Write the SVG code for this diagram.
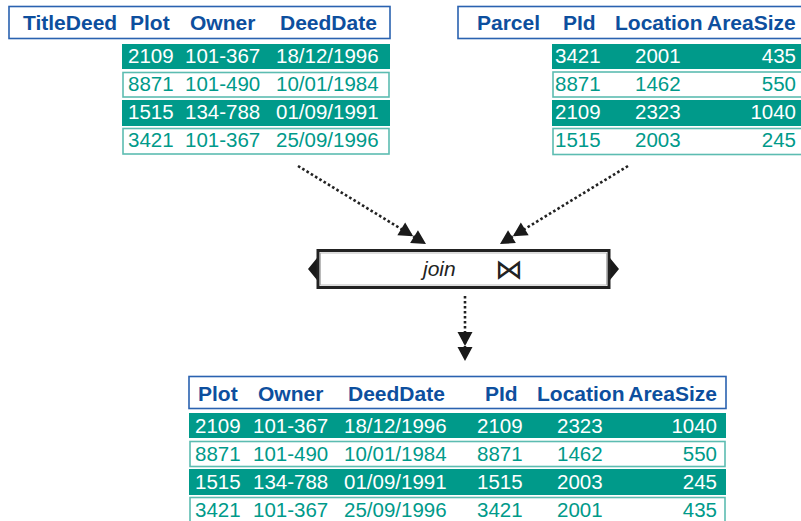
<svg xmlns="http://www.w3.org/2000/svg" xmlns:xlink="http://www.w3.org/1999/xlink" width="801" height="521" viewBox="0 0 801 521">
<defs>
<style>
.hdr{fill:#fff;stroke:#2a62b0;stroke-width:1.6}
.hd{font-family:"Liberation Sans",Arial,sans-serif;font-weight:bold;font-size:21px;fill:#0d4f9e}
.rf{fill:#009a8a}
.ro{fill:#fff;stroke:#5cbcb1;stroke-width:1.6}
.tw{font-family:"Liberation Sans",Arial,sans-serif;font-size:20.5px;fill:#fff}
.tt{font-family:"Liberation Sans",Arial,sans-serif;font-size:20.5px;fill:#009a8a}
.e{text-anchor:end}
.conn{fill:none;stroke:#222;stroke-width:2.6;stroke-dasharray:2.6 2.4}
</style>
<path id="dhead" d="M-14,-7.5 L0,0 L-14,7.5 Z M-29,-7.5 L-15,0 L-29,7.5 Z" fill="#1a1a1a"/>
</defs>

<g id="titledeed">
<rect class="hdr" x="9" y="6.5" width="381" height="32"/>
<text class="hd" x="23" y="30">TitleDeed</text>
<text class="hd" x="130" y="30">Plot</text>
<text class="hd" x="190" y="30">Owner</text>
<text class="hd" x="280" y="30">DeedDate</text>
<rect class="rf" x="122" y="44" width="268" height="25"/>
<text class="tw" x="128" y="63">2109</text><text class="tw" x="185" y="63">101-367</text><text class="tw" x="276" y="63">18/12/1996</text>
<rect class="ro" x="123" y="72.5" width="266" height="24.5"/>
<text class="tt" x="128" y="91">8871</text><text class="tt" x="185" y="91">101-490</text><text class="tt" x="276" y="91">10/01/1984</text>
<rect class="rf" x="122" y="100" width="268" height="26"/>
<text class="tw" x="128" y="119">1515</text><text class="tw" x="185" y="119">134-788</text><text class="tw" x="276" y="119">01/09/1991</text>
<rect class="ro" x="123" y="128.5" width="266" height="25.5"/>
<text class="tt" x="128" y="147">3421</text><text class="tt" x="185" y="147">101-367</text><text class="tt" x="276" y="147">25/09/1996</text>
</g>

<g id="parcel">
<rect class="hdr" x="458" y="6.5" width="350" height="32"/>
<text class="hd" x="477" y="30">Parcel</text>
<text class="hd" x="563" y="30">PId</text>
<text class="hd" x="615" y="30">Location</text>
<text class="hd" x="707" y="30">AreaSize</text>
<rect class="rf" x="552" y="44" width="255" height="25"/>
<text class="tw" x="555" y="63">3421</text><text class="tw" x="635" y="63">2001</text><text class="tw e" x="796" y="63">435</text>
<rect class="ro" x="553" y="72" width="255" height="25"/>
<text class="tt" x="555" y="91">8871</text><text class="tt" x="635" y="91">1462</text><text class="tt e" x="796" y="91">550</text>
<rect class="rf" x="552" y="100" width="255" height="26"/>
<text class="tw" x="555" y="119">2109</text><text class="tw" x="635" y="119">2323</text><text class="tw e" x="796" y="119">1040</text>
<rect class="ro" x="553" y="128.5" width="255" height="26"/>
<text class="tt" x="555" y="147">1515</text><text class="tt" x="635" y="147">2003</text><text class="tt e" x="796" y="147">245</text>
</g>

<g id="join">
<path d="M308,269 L317,258 L317,280 Z M619,269 L610,258 L610,280 Z" fill="#1a1a1a"/>
<rect x="318" y="250.5" width="291" height="37" fill="#fff" stroke="#222" stroke-width="3"/>
<rect x="320.5" y="253" width="286" height="32" fill="none" stroke="#aaa" stroke-width="0.8"/>
<text x="423" y="276" font-family="'Liberation Sans',Arial,sans-serif" font-style="italic" font-size="21" fill="#222">join</text>
<text x="509" y="279" text-anchor="middle" font-family="'DejaVu Sans',sans-serif" font-size="28" fill="#222">⋈</text>
</g>

<g id="connectors">
<line class="conn" x1="298" y1="166" x2="416" y2="238"/>
<use xlink:href="#dhead" href="#dhead" transform="translate(426,244) rotate(31.4)"/>
<line class="conn" x1="628" y1="166" x2="510" y2="238"/>
<use xlink:href="#dhead" href="#dhead" transform="translate(500,244) rotate(148.6)"/>
<line class="conn" x1="465" y1="296" x2="465" y2="350"/>
<use xlink:href="#dhead" href="#dhead" transform="translate(465,361) rotate(90)"/>
</g>

<g id="result">
<rect class="hdr" x="189" y="376.5" width="537" height="32"/>
<text class="hd" x="198" y="401">Plot</text>
<text class="hd" x="258" y="401">Owner</text>
<text class="hd" x="348" y="401">DeedDate</text>
<text class="hd" x="485" y="401">PId</text>
<text class="hd" x="537" y="401">Location</text>
<text class="hd e" x="717" y="401">AreaSize</text>
<rect class="rf" x="189" y="413" width="537" height="25"/>
<text class="tw" x="195" y="433">2109</text><text class="tw" x="253" y="433">101-367</text><text class="tw" x="344" y="433">18/12/1996</text><text class="tw" x="477" y="433">2109</text><text class="tw" x="557" y="433">2323</text><text class="tw e" x="717" y="433">1040</text>
<rect class="ro" x="190" y="441.5" width="535" height="25"/>
<text class="tt" x="195" y="461">8871</text><text class="tt" x="253" y="461">101-490</text><text class="tt" x="344" y="461">10/01/1984</text><text class="tt" x="477" y="461">8871</text><text class="tt" x="557" y="461">1462</text><text class="tt e" x="717" y="461">550</text>
<rect class="rf" x="189" y="469" width="537" height="26"/>
<text class="tw" x="195" y="489">1515</text><text class="tw" x="253" y="489">134-788</text><text class="tw" x="344" y="489">01/09/1991</text><text class="tw" x="477" y="489">1515</text><text class="tw" x="557" y="489">2003</text><text class="tw e" x="717" y="489">245</text>
<rect class="ro" x="190" y="497.5" width="535" height="30"/>
<text class="tt" x="195" y="517">3421</text><text class="tt" x="253" y="517">101-367</text><text class="tt" x="344" y="517">25/09/1996</text><text class="tt" x="477" y="517">3421</text><text class="tt" x="557" y="517">2001</text><text class="tt e" x="717" y="517">435</text>
</g>
</svg>
